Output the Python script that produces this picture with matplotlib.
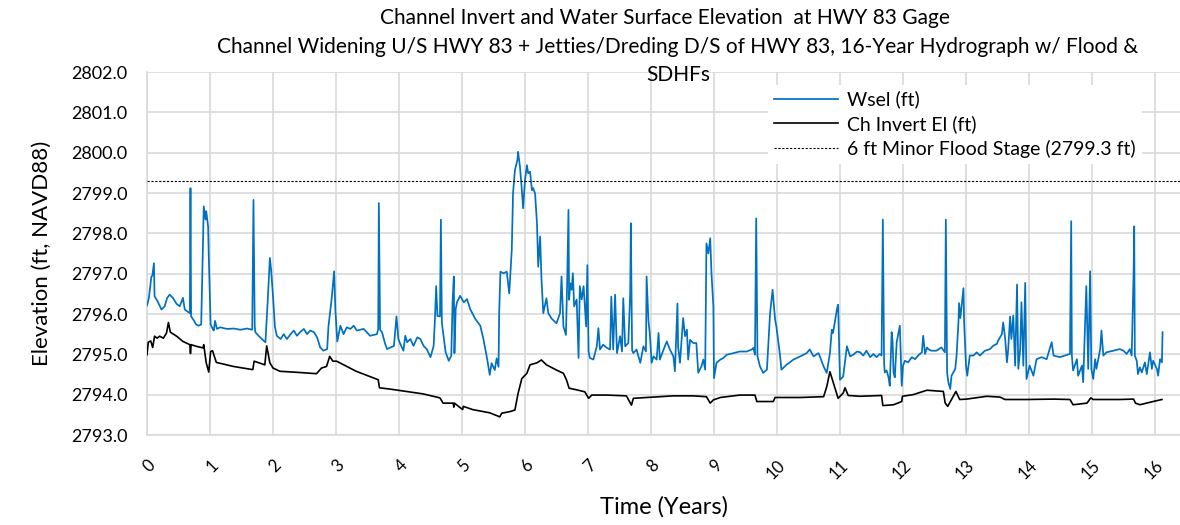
import matplotlib
matplotlib.use("Agg")
import matplotlib.pyplot as plt

plt.rcParams['font.family'] = ['Lato', 'DejaVu Sans']

# ---- Data: (time in years, elevation in ft) ----
wsel_pts = [
    (0.00, 2796.21), (0.03, 2796.40), (0.07, 2796.93), (0.085, 2796.95), (0.11, 2797.26), (0.12, 2796.44),
    (0.17, 2796.31), (0.23, 2796.11), (0.28, 2796.19), (0.32, 2796.40), (0.36, 2796.48), (0.41, 2796.40),
    (0.47, 2796.25), (0.52, 2796.19), (0.57, 2796.40), (0.60, 2796.11), (0.68, 2796.02), (0.69, 2799.12),
    (0.70, 2795.94), (0.74, 2795.85), (0.78, 2795.74), (0.82, 2795.71), (0.86, 2795.74), (0.89, 2797.84),
    (0.90, 2798.67), (0.93, 2798.34), (0.94, 2798.55), (0.97, 2798.17), (0.98, 2797.47), (1.01, 2795.74),
    (1.05, 2795.61), (1.06, 2795.59), (1.08, 2795.83), (1.11, 2795.63), (1.16, 2795.67), (1.27, 2795.63),
    (1.38, 2795.64), (1.48, 2795.61), (1.59, 2795.64), (1.67, 2795.61), (1.69, 2798.83), (1.71, 2795.69),
    (1.72, 2795.55), (1.77, 2795.46), (1.85, 2795.34), (1.88, 2795.30), (1.92, 2796.44), (1.95, 2797.39),
    (1.97, 2797.10), (2.00, 2796.44), (2.03, 2795.69), (2.06, 2795.46), (2.12, 2795.38), (2.17, 2795.50),
    (2.22, 2795.38), (2.28, 2795.50), (2.33, 2795.59), (2.38, 2795.46), (2.43, 2795.55), (2.49, 2795.63),
    (2.54, 2795.50), (2.59, 2795.59), (2.65, 2795.55), (2.70, 2795.42), (2.75, 2795.17), (2.80, 2795.09),
    (2.86, 2795.13), (2.88, 2795.69), (2.93, 2796.36), (2.97, 2797.06), (2.99, 2796.11), (3.02, 2795.32),
    (3.07, 2795.71), (3.12, 2795.50), (3.17, 2795.67), (3.23, 2795.63), (3.28, 2795.71), (3.33, 2795.59),
    (3.44, 2795.63), (3.54, 2795.46), (3.65, 2795.50), (3.67, 2795.63), (3.68, 2798.75), (3.70, 2795.61),
    (3.73, 2795.55), (3.78, 2795.26), (3.81, 2795.13), (3.92, 2795.21), (3.96, 2795.94), (3.99, 2795.38),
    (4.02, 2795.26), (4.07, 2795.09), (4.10, 2795.46), (4.13, 2795.30), (4.18, 2795.38), (4.23, 2795.21),
    (4.29, 2795.42), (4.34, 2795.38), (4.39, 2795.21), (4.44, 2795.13), (4.50, 2794.93), (4.55, 2795.21),
    (4.57, 2795.86), (4.59, 2796.69), (4.61, 2795.95), (4.65, 2795.94), (4.665, 2798.34), (4.68, 2795.79),
    (4.74, 2795.05), (4.79, 2794.84), (4.83, 2794.97), (4.85, 2796.27), (4.87, 2796.93), (4.88, 2795.03),
    (4.90, 2796.12), (4.92, 2796.29), (4.97, 2796.45), (5.03, 2796.29), (5.08, 2796.37), (5.13, 2796.12),
    (5.21, 2795.88), (5.29, 2795.71), (5.34, 2795.38), (5.40, 2794.88), (5.44, 2794.49), (5.47, 2794.78),
    (5.52, 2794.61), (5.55, 2794.90), (5.58, 2794.69), (5.59, 2796.02), (5.61, 2797.05), (5.66, 2797.01),
    (5.71, 2797.05), (5.75, 2796.51), (5.79, 2797.59), (5.81, 2798.99), (5.84, 2799.57), (5.88, 2799.82),
    (5.89, 2800.02), (5.92, 2799.65), (5.95, 2799.07), (5.97, 2798.62), (6.00, 2799.32), (6.03, 2799.69),
    (6.05, 2799.49), (6.08, 2799.53), (6.11, 2799.07), (6.13, 2799.12), (6.16, 2798.99), (6.19, 2798.25),
    (6.21, 2797.17), (6.24, 2797.92), (6.26, 2796.93), (6.29, 2796.02), (6.34, 2796.39), (6.37, 2796.02),
    (6.42, 2795.89), (6.50, 2795.77), (6.556, 2796.02), (6.58, 2796.93), (6.61, 2795.69), (6.65, 2795.48),
    (6.67, 2796.84), (6.69, 2798.58), (6.70, 2796.35), (6.72, 2796.76), (6.74, 2796.60), (6.76, 2797.01),
    (6.78, 2796.19), (6.82, 2796.36), (6.85, 2794.91), (6.87, 2796.69), (6.90, 2796.36), (6.93, 2796.69),
    (6.97, 2795.69), (6.99, 2797.21), (7.01, 2795.07), (7.03, 2794.91), (7.085, 2794.87), (7.14, 2795.20),
    (7.165, 2795.65), (7.19, 2795.12), (7.24, 2795.24), (7.30, 2795.16), (7.35, 2795.12), (7.37, 2796.43),
    (7.40, 2795.12), (7.43, 2796.48), (7.46, 2795.03), (7.51, 2795.45), (7.54, 2795.07), (7.56, 2796.39),
    (7.59, 2795.20), (7.64, 2795.28), (7.67, 2796.52), (7.68, 2798.25), (7.70, 2795.10), (7.72, 2795.03),
    (7.77, 2795.12), (7.83, 2794.79), (7.88, 2795.20), (7.92, 2795.07), (7.93, 2796.93), (7.96, 2795.82),
    (7.98, 2795.53), (8.01, 2794.79), (8.04, 2794.95), (8.09, 2794.87), (8.12, 2795.53), (8.14, 2794.87),
    (8.20, 2795.12), (8.25, 2795.32), (8.30, 2795.12), (8.355, 2794.95), (8.38, 2794.58), (8.42, 2796.26),
    (8.43, 2795.20), (8.46, 2794.79), (8.51, 2795.90), (8.54, 2795.45), (8.57, 2795.61), (8.59, 2794.87),
    (8.62, 2795.36), (8.67, 2795.28), (8.72, 2795.28), (8.75, 2794.54), (8.80, 2794.70), (8.83, 2794.87),
    (8.86, 2794.62), (8.87, 2796.18), (8.88, 2797.75), (8.91, 2797.50), (8.94, 2797.88), (8.96, 2797.01),
    (8.99, 2796.18), (9.00, 2794.41), (9.04, 2794.79), (9.10, 2794.87), (9.15, 2794.91), (9.20, 2794.99),
    (9.31, 2795.03), (9.41, 2795.07), (9.52, 2795.07), (9.60, 2795.12), (9.625, 2795.16), (9.65, 2794.99),
    (9.67, 2798.37), (9.69, 2794.95), (9.73, 2794.70), (9.78, 2794.54), (9.84, 2794.62), (9.86, 2795.20),
    (9.89, 2796.02), (9.93, 2796.60), (9.97, 2795.86), (9.99, 2795.69), (10.05, 2794.95), (10.07, 2794.62),
    (10.15, 2794.74), (10.26, 2794.87), (10.37, 2794.95), (10.47, 2795.03), (10.52, 2795.12), (10.58, 2794.95),
    (10.66, 2795.03), (10.74, 2794.70), (10.79, 2794.54), (10.84, 2795.03), (10.87, 2795.61), (10.89, 2795.53),
    (10.95, 2796.11), (10.97, 2796.23), (11.00, 2794.37), (11.05, 2794.45), (11.11, 2795.20), (11.16, 2794.95),
    (11.21, 2794.99), (11.27, 2795.07), (11.32, 2795.05), (11.37, 2794.97), (11.42, 2795.09), (11.48, 2794.93),
    (11.53, 2795.01), (11.58, 2794.93), (11.63, 2795.01), (11.66, 2794.97), (11.68, 2798.34), (11.70, 2794.80),
    (11.71, 2794.55), (11.74, 2794.60), (11.77, 2794.43), (11.79, 2794.22), (11.82, 2795.55), (11.835, 2795.30),
    (11.85, 2794.55), (11.87, 2794.43), (11.90, 2795.30), (11.93, 2795.55), (11.95, 2795.71), (11.98, 2794.22),
    (12.00, 2794.72), (12.03, 2794.84), (12.08, 2794.80), (12.14, 2794.93), (12.19, 2794.88), (12.24, 2794.97),
    (12.30, 2795.05), (12.32, 2795.46), (12.35, 2795.01), (12.38, 2795.17), (12.40, 2795.13), (12.45, 2795.09),
    (12.53, 2795.09), (12.61, 2795.17), (12.665, 2795.05), (12.68, 2798.34), (12.70, 2794.55), (12.72, 2794.31),
    (12.75, 2794.14), (12.77, 2794.47), (12.83, 2794.64), (12.85, 2794.97), (12.88, 2795.79), (12.89, 2796.27),
    (12.91, 2795.90), (12.93, 2796.19), (12.96, 2796.64), (12.97, 2795.79), (13.00, 2794.72), (13.02, 2794.47),
    (13.06, 2794.97), (13.12, 2794.97), (13.17, 2795.05), (13.22, 2794.97), (13.30, 2795.09), (13.38, 2795.13),
    (13.43, 2795.21), (13.49, 2795.26), (13.51, 2795.34), (13.57, 2795.50), (13.59, 2795.79), (13.62, 2795.42),
    (13.65, 2794.80), (13.67, 2795.13), (13.70, 2795.94), (13.72, 2795.38), (13.75, 2795.96), (13.78, 2794.72),
    (13.81, 2796.73), (13.83, 2794.64), (13.86, 2795.13), (13.88, 2796.29), (13.91, 2794.72), (13.94, 2796.77),
    (13.96, 2794.39), (14.01, 2794.72), (14.07, 2794.47), (14.12, 2794.88), (14.20, 2794.93), (14.28, 2794.88),
    (14.36, 2795.30), (14.39, 2794.97), (14.49, 2794.93), (14.57, 2794.97), (14.65, 2795.01), (14.67, 2798.30),
    (14.68, 2794.97), (14.70, 2794.60), (14.76, 2794.88), (14.78, 2794.47), (14.84, 2794.72), (14.86, 2794.31),
    (14.91, 2796.69), (14.94, 2794.64), (14.97, 2797.06), (14.99, 2794.64), (15.02, 2794.39), (15.05, 2794.88),
    (15.07, 2794.64), (15.13, 2795.13), (15.15, 2795.59), (15.18, 2794.97), (15.23, 2795.05), (15.34, 2795.09),
    (15.44, 2795.13), (15.50, 2795.09), (15.55, 2795.01), (15.60, 2795.13), (15.63, 2794.97), (15.66, 2797.02),
    (15.67, 2798.17), (15.68, 2794.97), (15.71, 2794.84), (15.73, 2794.51), (15.76, 2794.68), (15.79, 2794.55),
    (15.84, 2794.80), (15.87, 2794.51), (15.92, 2795.05), (15.95, 2794.64), (15.97, 2794.84), (16.03, 2794.64),
    (16.05, 2794.47), (16.08, 2794.88), (16.11, 2794.80), (16.12, 2795.55),
]

inv_pts = [
    (0.00, 2794.99), (0.02, 2795.30), (0.06, 2795.33), (0.09, 2795.17), (0.12, 2795.45), (0.16, 2795.40),
    (0.20, 2795.45), (0.26, 2795.40), (0.31, 2795.53), (0.34, 2795.79), (0.37, 2795.55), (0.42, 2795.50),
    (0.47, 2795.45), (0.57, 2795.32), (0.68, 2795.24), (0.69, 2795.02), (0.70, 2795.24), (0.78, 2795.20),
    (0.89, 2795.16), (0.90, 2795.24), (0.94, 2794.79), (0.98, 2794.56), (1.01, 2795.07), (1.04, 2795.09),
    (1.10, 2794.80), (1.37, 2794.70), (1.68, 2794.62), (1.70, 2794.83), (1.87, 2794.74), (1.90, 2795.21),
    (1.95, 2794.79), (2.00, 2794.66), (2.11, 2794.58), (2.42, 2794.55), (2.69, 2794.52), (2.77, 2794.66),
    (2.85, 2794.70), (2.90, 2794.95), (2.95, 2794.83), (3.01, 2794.83), (3.32, 2794.58), (3.67, 2794.37),
    (3.69, 2794.17), (3.85, 2794.14), (4.12, 2794.08), (4.38, 2794.02), (4.65, 2793.92), (4.70, 2793.79),
    (4.86, 2793.79), (4.87, 2793.69), (4.88, 2793.79), (5.01, 2793.63), (5.02, 2793.71), (5.17, 2793.63),
    (5.44, 2793.55), (5.60, 2793.45), (5.63, 2793.54), (5.76, 2793.58), (5.84, 2793.62), (5.89, 2794.03),
    (5.95, 2794.40), (6.03, 2794.53), (6.08, 2794.74), (6.19, 2794.79), (6.26, 2794.86), (6.34, 2794.74),
    (6.50, 2794.61), (6.61, 2794.53), (6.66, 2794.36), (6.70, 2794.16), (6.82, 2794.12), (6.95, 2794.07),
    (7.01, 2793.91), (7.06, 2793.99), (7.30, 2793.99), (7.61, 2793.97), (7.69, 2793.74), (7.72, 2793.91),
    (7.93, 2793.93), (8.35, 2793.97), (8.67, 2793.97), (8.88, 2793.95), (8.94, 2793.79), (8.99, 2793.87),
    (9.10, 2793.93), (9.41, 2793.99), (9.65, 2793.99), (9.68, 2793.83), (9.94, 2793.83), (9.97, 2793.93),
    (10.37, 2793.93), (10.74, 2793.95), (10.79, 2794.20), (10.84, 2794.57), (10.92, 2794.16), (10.97, 2793.91),
    (11.05, 2794.04), (11.08, 2794.17), (11.13, 2793.98), (11.32, 2793.96), (11.66, 2793.98), (11.68, 2793.73),
    (11.85, 2793.75), (11.98, 2793.83), (11.99, 2793.96), (12.16, 2794.00), (12.38, 2794.11), (12.64, 2794.08),
    (12.67, 2793.79), (12.71, 2793.71), (12.77, 2793.88), (12.84, 2794.08), (12.90, 2793.88), (13.01, 2793.89),
    (13.33, 2793.96), (13.54, 2793.94), (13.62, 2793.88), (13.96, 2793.88), (14.39, 2793.89), (14.65, 2793.88),
    (14.70, 2793.75), (14.92, 2793.79), (14.98, 2793.92), (15.02, 2793.88), (15.44, 2793.88), (15.66, 2793.89),
    (15.69, 2793.79), (15.76, 2793.75), (15.97, 2793.83), (16.11, 2793.88),
]

flood_stage = 2799.3
x_ticks = list(range(0, 17))
y_ticks = [2793, 2794, 2795, 2796, 2797, 2798, 2799, 2800, 2801, 2802]

series_labels = ['Wsel (ft)', 'Ch Invert El (ft)', '6 ft Minor Flood Stage (2799.3 ft)']
title_1 = "Channel Invert and Water Surface Elevation  at HWY 83 Gage"
title_2 = "Channel Widening U/S HWY 83 + Jetties/Dreding D/S of HWY 83, 16-Year Hydrograph w/ Flood &"
title_3 = "SDHFs"

# ---- Figure ----
W, H = 1180, 525
fig = plt.figure(figsize=(W / 100, H / 100), dpi=100)
ax = fig.add_axes([147 / W, 1 - 435 / H, (1180 - 147) / W, (435 - 72) / H])

wt, wy = zip(*wsel_pts)
it, iy = zip(*inv_pts)
ax.plot(wt, wy, color='#0070C0', lw=1.25, label=series_labels[0], zorder=3)
ax.plot(it, iy, color='black', lw=1.2, label=series_labels[1], zorder=3)
ax.axhline(flood_stage, color='black', lw=0.8, ls=(0, (2, 1.5)), label=series_labels[2], zorder=3)

ax.set_xlim(0, (1180 - 147) / 63)
ax.set_ylim(2793, 2802)
ax.set_xticks(x_ticks)
ax.set_yticks(y_ticks)
ax.set_yticklabels([f"{v:.1f}" for v in y_ticks], fontsize=13)
ax.set_xticklabels([str(v) for v in x_ticks], fontsize=12, rotation=45, ha='right', rotation_mode='anchor')
ax.tick_params(axis='both', length=0)
ax.tick_params(axis='y', pad=14)
ax.tick_params(axis='x', pad=16)
ax.grid(True, color='#D9D9D9', lw=1.2, zorder=0)
ax.set_axisbelow(True)
for s in ['top', 'right']:
    ax.spines[s].set_visible(False)
for s in ['left', 'bottom']:
    ax.spines[s].set_color('#D9D9D9')
    ax.spines[s].set_linewidth(1.2)

ax.set_ylabel('Elevation (ft, NAVD88)', fontsize=16, labelpad=14)
ax.set_xlabel('Time (Years)', fontsize=17, labelpad=10)

leg = ax.legend(loc='upper left', bbox_to_anchor=(758 / W, 1 - 75 / H), bbox_transform=fig.transFigure,
                frameon=True, fontsize=14, handlelength=3.3, handletextpad=0.5, labelspacing=0.35,
                borderpad=0.3)
leg.get_frame().set_edgecolor('none')
leg.get_frame().set_facecolor('white')
leg.get_frame().set_alpha(1)

fig.text(665 / W, 1 - 18 / H, title_1, ha='center', va='center', fontsize=15)
fig.text(678 / W, 1 - 47 / H, title_2, ha='center', va='center', fontsize=15)
fig.text(678 / W, 1 - 75 / H, title_3, ha='center', va='center', fontsize=15)

fig.savefig('out.png', dpi=100)
